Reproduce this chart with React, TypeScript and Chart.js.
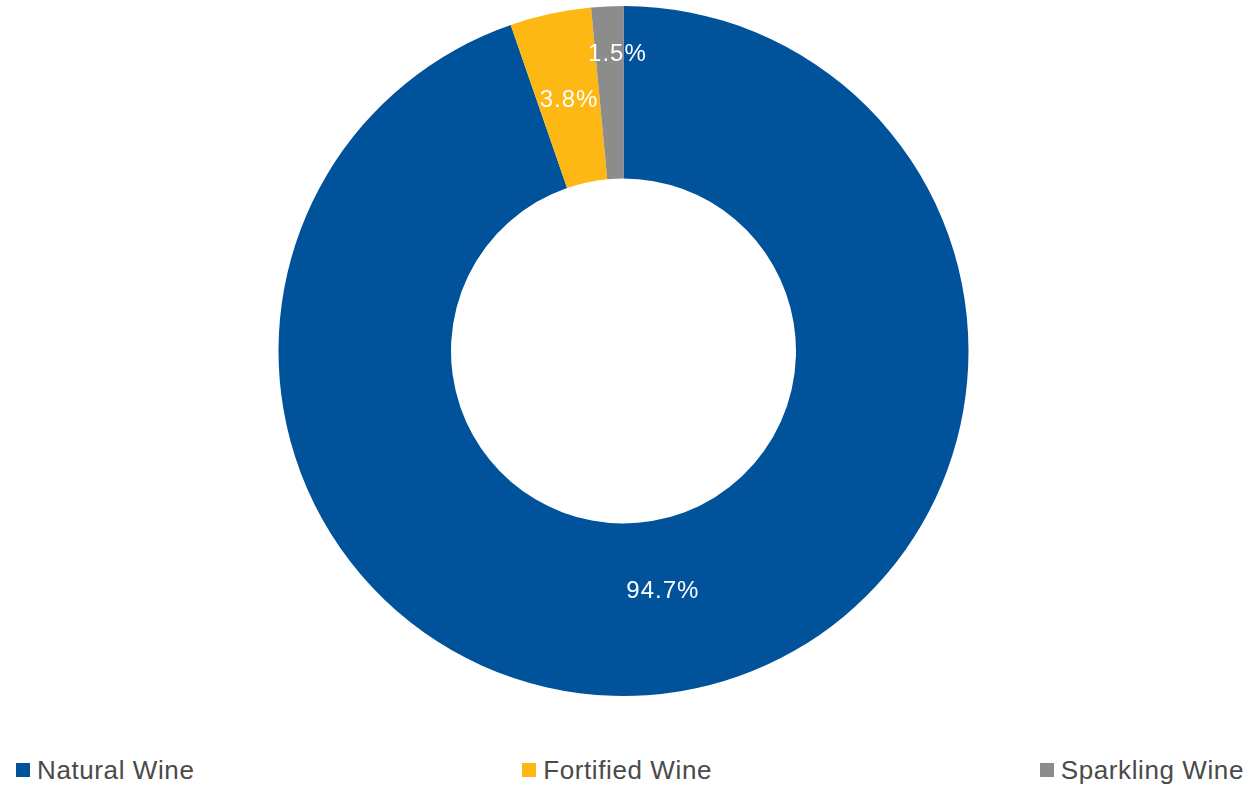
import React, { useEffect, useRef } from "react";
import { Chart, registerables } from "chart.js";

Chart.register(...registerables);

const categories = ["Natural Wine", "Fortified Wine", "Sparkling Wine"];
const shares = [94.7, 3.8, 1.5];
const colors = ["#00529B", "#FDB813", "#8C8C8C"];
// label radial position within the ring (0 = inner edge, 1 = outer edge)
const labelRadial = [0.41, 0.49, 0.73];
const labelShiftX = [-1, 0, 8];

const labelPlugin = {
  id: "sliceLabels",
  afterDatasetsDraw(chart: any) {
    const ctx = chart.ctx;
    const meta = chart.getDatasetMeta(0);
    ctx.save();
    ctx.fillStyle = "#FFFFFF";
    ctx.font = "24px 'Liberation Sans', Arial, sans-serif";
    (ctx as any).letterSpacing = "1px";
    ctx.textAlign = "center";
    ctx.textBaseline = "middle";
    meta.data.forEach((arc: any, i: number) => {
      const { x, y, startAngle, endAngle, innerRadius, outerRadius } = arc.getProps(
        ["x", "y", "startAngle", "endAngle", "innerRadius", "outerRadius"],
        true
      );
      const mid = (startAngle + endAngle) / 2;
      const r = innerRadius + (outerRadius - innerRadius) * labelRadial[i];
      ctx.fillText(
        shares[i].toFixed(1) + "%",
        x + Math.cos(mid) * r + labelShiftX[i],
        y + Math.sin(mid) * r + 1
      );
    });
    ctx.restore();
  },
};

export default function App() {
  const ref = useRef<HTMLCanvasElement | null>(null);
  useEffect(() => {
    if (!ref.current) return;
    const chart = new Chart(ref.current, {
      type: "doughnut",
      data: {
        labels: categories,
        datasets: [
          {
            data: shares,
            backgroundColor: colors,
            borderWidth: 0,
          },
        ],
      },
      options: {
        animation: false,
        responsive: false,
        cutout: "50%",
        layout: { padding: 6 },
        plugins: {
          legend: { display: false },
          tooltip: { enabled: false },
        },
      },
      plugins: [labelPlugin],
    });
    return () => chart.destroy();
  }, []);

  return (
    <div
      style={{
        position: "absolute",
        left: 0,
        top: 0,
        width: 1249,
        height: 786,
        background: "#FFFFFF",
        fontFamily: "'Liberation Sans', Arial, sans-serif",
      }}
    >
      <canvas ref={ref} width={1247} height={702} style={{ display: "block" }} />
      <div
        style={{
          position: "absolute",
          left: 16,
          right: 5,
          top: 755,
          display: "flex",
          justifyContent: "space-between",
          alignItems: "center",
        }}
      >
        {categories.map((c, i) => (
          <div key={c} style={{ display: "flex", alignItems: "center" }}>
            <span
              style={{
                display: "inline-block",
                width: 14,
                height: 14,
                background: colors[i],
                marginRight: 7,
              }}
            />
            <span
              style={{
                fontSize: 26,
                color: "#4A4A4A",
                lineHeight: "30px",
                letterSpacing: "0.6px",
              }}
            >
              {c}
            </span>
          </div>
        ))}
      </div>
    </div>
  );
}
